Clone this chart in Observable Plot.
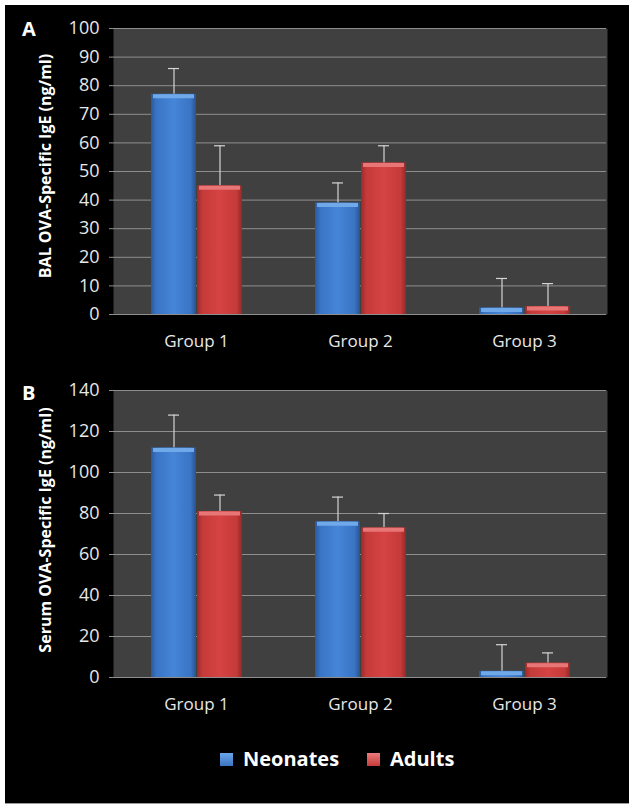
<!DOCTYPE html>
<html><head><meta charset="utf-8">
<script src="https://cdn.jsdelivr.net/npm/d3@7"></script>
<script src="https://cdn.jsdelivr.net/npm/@observablehq/plot@0.6"></script>
<style>
html,body{margin:0;padding:0;background:#fff;}
body{width:635px;height:811px;overflow:hidden;position:relative;font-family:"Open Sans",sans-serif;}
#board{position:absolute;left:5px;top:5px;width:624px;height:798px;background:#000;border-bottom:1px solid #9a9a9a;}
.panel{position:absolute;left:0;}
.tag{position:absolute;color:#fff;font-weight:bold;font-size:20px;line-height:1;}
.ytitle{position:absolute;color:#fff;font-weight:bold;font-size:16px;white-space:nowrap;transform:translate(-50%,-50%) rotate(-90deg);line-height:1;}
.leg{position:absolute;display:flex;align-items:center;color:#fff;font-weight:bold;font-size:20px;line-height:1;}
.sw{width:13px;height:13px;margin-right:10px;}
</style>
</head><body>
<svg width="0" height="0" style="position:absolute">
<defs>
<linearGradient id="gBlue" x1="0" x2="1" y1="0" y2="0">
<stop offset="0" stop-color="#2a5a9e"/><stop offset="0.12" stop-color="#3a74c4"/><stop offset="0.5" stop-color="#4685d8"/><stop offset="0.88" stop-color="#3a74c4"/><stop offset="1" stop-color="#28548f"/>
</linearGradient>
<linearGradient id="gRed" x1="0" x2="1" y1="0" y2="0">
<stop offset="0" stop-color="#9c2a2a"/><stop offset="0.12" stop-color="#c53a3a"/><stop offset="0.5" stop-color="#d64343"/><stop offset="0.88" stop-color="#c53a3a"/><stop offset="1" stop-color="#942828"/>
</linearGradient>
</defs>
</svg>
<div id="board">
  <div class="tag" style="left:17px;top:14px;">A</div>
  <div class="tag" style="left:17px;top:378px;">B</div>
  <div class="ytitle" style="left:40px;top:161px;">BAL OVA-Specific IgE (ng/ml)</div>
  <div class="ytitle" style="left:40px;top:525px;">Serum OVA-Specific IgE (ng/ml)</div>
  <div id="pA" class="panel" style="top:0px;"></div>
  <div id="pB" class="panel" style="top:360px;"></div>
  <div class="leg" style="left:215px;top:744px;"><div class="sw" style="background:linear-gradient(#6aa6ea,#3a74c4);"></div>Neonates</div>
  <div class="leg" style="left:362px;top:744px;"><div class="sw" style="background:linear-gradient(#ee7a7a,#c53a3a);"></div>Adults</div>
</div>
<script>
const groups = ["Group 1", "Group 2", "Group 3"];
const series = ["Neonates", "Adults"];
// Panel A: BAL OVA-specific IgE (ng/ml)
const balNeonates = [77, 39, 2.3];
const balNeonatesErr = [9, 7, 10.3];
const balAdults = [45, 53, 2.8];
const balAdultsErr = [14, 6, 8];
const balTicks = [0, 10, 20, 30, 40, 50, 60, 70, 80, 90, 100];
// Panel B: Serum OVA-specific IgE (ng/ml)
const serumNeonates = [112, 76, 3];
const serumNeonatesErr = [16, 12, 13];
const serumAdults = [81, 73, 7];
const serumAdultsErr = [8, 7, 5];
const serumTicks = [0, 20, 40, 60, 80, 100, 120, 140];

const fills = {Neonates: "url(#gBlue)", Adults: "url(#gRed)"};
const bevels = {Neonates: "#6fa9ea", Adults: "#e87676"};

function build(neo, neoErr, adu, aduErr, ticks, marginTop, marginBottom) {
  const data = [];
  groups.forEach((g, i) => {
    data.push({group: g, series: "Neonates", value: neo[i], err: neoErr[i]});
    data.push({group: g, series: "Adults", value: adu[i], err: aduErr[i]});
  });
  const yMax = ticks[ticks.length - 1];
  const barMarks = [];
  series.forEach(s => {
    const d = data.filter(r => r.series === s);
    barMarks.push(Plot.barY(d, {fx: "group", x: "series", y: "value", fill: fills[s]}));
    barMarks.push(Plot.tickY(d, {fx: "group", x: "series", y: "value", stroke: bevels[s], strokeWidth: 4, dy: 2, insetLeft: 2, insetRight: 2}));
  });
  return Plot.plot({
    width: 624, height: 360,
    marginLeft: 108, marginRight: 22, marginTop, marginBottom,
    style: {background: "transparent", color: "#e8e8e8", fontFamily: "Open Sans", fontSize: "18px", overflow: "visible"},
    fx: {domain: groups, padding: 0, label: null},
    x: {domain: series, paddingInner: 0.03, paddingOuter: 0.77, axis: null},
    y: {domain: [0, yMax], label: null},
    marks: [
      Plot.frame({fill: "#404040", stroke: "none", insetLeft: -1, insetRight: -1}),
      Plot.gridY(ticks, {stroke: "#8e8e8e", strokeOpacity: 1}),
      Plot.axisY(ticks, {tickSize: 5, tickPadding: 10, stroke: "#8e8e8e", fill: "#e8e8e8", fontSize: 18, label: null}),
      Plot.axisFx({anchor: "bottom", tickSize: 0, tickPadding: 20, label: null, fontSize: 17, fill: "#e8e8e8"}),
      Plot.ruleX(data, {fx: "group", x: "series", y1: "value", y2: d => d.value + d.err, stroke: "#d4d4d4", strokeWidth: 1.2}),
      Plot.tickY(data, {fx: "group", x: "series", y: d => d.value + d.err, stroke: "#d4d4d4", strokeWidth: 1.2, insetLeft: 17, insetRight: 17}),
      ...barMarks
    ]
  });
}

document.getElementById("pA").append(build(balNeonates, balNeonatesErr, balAdults, balAdultsErr, balTicks, 23, 51));
document.getElementById("pB").append(build(serumNeonates, serumNeonatesErr, serumAdults, serumAdultsErr, serumTicks, 25, 48));
</script>
</body></html>
